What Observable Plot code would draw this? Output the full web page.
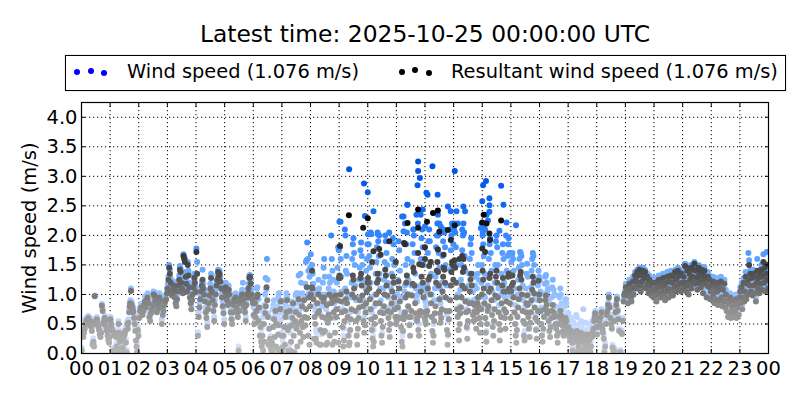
<!DOCTYPE html>
<html><head><meta charset="utf-8">
<script src="https://cdn.jsdelivr.net/npm/d3@7"></script>
<script src="https://cdn.jsdelivr.net/npm/@observablehq/plot@0.6"></script>
<style>
html,body{margin:0;padding:0;background:#fff;font-family:"DejaVu Sans",sans-serif;color:#000}
#wrap{position:relative;width:800px;height:400px;overflow:hidden}
#title{position:absolute;left:0;width:850px;top:20px;text-align:center;font-size:23.4px;line-height:28px}
#legend{position:absolute;left:65px;top:55px;width:719px;height:34px;border:1px solid #000;box-shadow:0 0 1px #999;z-index:2}
.lt{position:absolute;top:4px;font-size:19.4px;line-height:24px;white-space:nowrap}
.ld{position:absolute;width:6px;height:6px;border-radius:50%}
#chart{position:absolute;left:0;top:90px}
</style></head><body>
<div id="wrap">
<div id="title"></div>
<div id="legend"></div>
<div id="chart"></div>
</div>
<script>
const titleText = "Latest time: 2025-10-25 00:00:00 UTC";
const windLabel = "Wind speed (1.076 m/s)";
const resultantLabel = "Resultant wind speed (1.076 m/s)";
const axisLabel = "Wind speed (m/s)";
const hourTicks = d3.range(0, 25);
const speedTicks = [0,.5,1,1.5,2,2.5,3,3.5,4];

// Resultant wind speed samples, hour by hour
const resultantByHour = [
[.05,.3,.28,.35,.42,.5,.55,.52,.58,.6,.5,.48,.55,.45,.38,.15,.2,.12,.97,.5,.55,.58,.52,.45,.4,.32,.28,.35,.81,.72,.5,.55,.6,.55,.45,.38,.3,.22,.18,.28],
[.58,.5,.42,.38,.02,.05,.02,.3,.35,.28,.12,.08,.03,.5,.35,.2,.28,.05,.02,.02,.1,.22,.3,.33,.38,.18,.02,.5,.42,.52,.7,.8,.85,1.06,.82,.78,.7,.72,.6,.5,.38,.22,.12,.02,.4,.3],
[.6,.72,.78,.7,.65,.72,.82,.88,.78,.9,.95,.85,.62,.55,.68,.75,.82,1.0,.98,.9,.82,.7,.75,.85,.95,.9,.78,.5,.65,.72,.82,.88,.92,1.02],
[1.1,1.25,1.45,1.35,1.2,1.05,.98,1.02,1.15,1.1,.95,.85,.8,.92,1.05,1.15,1.25,1.42,1.38,1.2,1.1,1.02,1.65,1.6,1.55,1.3,1.18,1.05,1.5,1.32,1.12,.95,.85,.75,.9,1.0,1.12,1.28,1.2,1.05],
[1.72,1.35,.3,.62,.78,.92,1.05,1.15,1.25,1.1,1.0,.88,.7,.6,.45,.75,.85,.98,1.1,1.28,1.05,.9,.72,.55,.82,1.0,1.15,1.25,1.38,1.3,1.35,1.22,1.1,.95,.8,.68,.5],
[1.05,1.12,.98,.9,.82,1.08,1.0,.85,.7,.58,.5,.7,.82,.92,.88,.95,.78,.7,.62,.05,.72,.85,.9,.95,1.0,.9,.82,.78,.7,.55,.82,.95,1.02,1.1,1.28,1.3,1.18,1.0,.92,.85],
[.65,.5,.85,.62,.72,.95,1.0,.55,.78,.3,.45,.2,.12,.3,.05,.5,.2,.68,.8,1.12,.9,.62,.15,.42,.25,.1,.05,.18,.02,.45,.58,.28,.72,.12,.5,.08,.32,.48,.02,.75,.88,.3],
[.02,.1,.3,.45,.15,.62,.7,.9,.4,.05,.45,.72,.05,.2,.48,.6,.85,.3,.02,.55,.7,.42,.12,.5,.92,.65,.35,.2,.55,.8,.45,.28,.9,.62,.48,.75,1.12,.6,.3,.95,.15,.8],
[1.0,1.12,1.4,1.1,.92,.25,.62,.5,.25,.18,.85,.68,1.0,.72,.15,.4,.15,.95,.62,.35,.88,.95,.38,.6,.15,.82,.18,.52,.66,1.0,.3,.6,.85,.95,.15,.88,.7,.2,.35,.98,.62,.75,.9,.18,1.28],
[1.32,1.28,1.0,.88,.7,.45,.12,.22,.55,.72,.92,1.05,.85,.62,.3,.14,.18,.4,.58,.75,1.0,1.32,1.25,1.1,.95,.72,.55,.3,.15,.42,.6,.78,.9,1.28,1.35,1.15,.98,.8,.55,.35,.48,.7,.85,1.05,1.2],
[1.28,1.2,1.1,.92,.75,.58,.4,.25,.12,.2,.5,.62,.85,1.0,1.2,1.35,1.25,1.05,.85,.7,.55,.3,.18,.45,.68,.8,1.0,1.42,1.32,1.15,.98,.72,.6,.4,.28,.5,.7,.85,1.05,1.3,1.2,.95,.75,.62,.5],
[.55,.62,.78,1.22,1.1,.88,.6,.45,.2,.12,.38,.58,.65,.7,.95,1.2,1.32,1.0,.8,.62,.48,.3,.62,.72,.98,1.18,1.45,1.38,1.15,.85,.68,.58,.55,.62,.4,.3,.65,.72,1.05,1.3,1.5,1.2,.95,.7,.6],
[.55,.5,.65,.72,1.1,1.25,1.48,1.3,1.0,.85,.62,.38,.18,.3,.55,.68,.8,1.2,1.4,1.55,1.38,1.15,.92,.68,.52,.6,.75,1.05,1.3,1.45,1.42,1.2,.95,.72,.4,.15,.32,.58,.72,.9,1.15,1.38,1.55,1.5,1.25],
[1.48,1.58,1.45,1.2,.95,.75,.62,.4,.22,.5,.68,.78,.95,1.15,1.38,1.6,1.45,1.1,.88,.7,.45,.25,.55,.72,.85,1.05,1.25,1.35,1.15,.85,.65,.55,.82,.72,.58,.42,.7,.85,.95,.78,.6,.35,.5,.75,1.0],
[1.4,1.25,1.1,.85,.6,.35,.2,.5,.72,.8,1.05,1.28,1.35,1.1,.9,.65,.45,.3,.55,.75,.98,1.3,1.4,1.2,.95,.7,.5,.22,.4,.62,.85,1.15,1.28,1.05,.75,.6,.42,.7,.88,1.05,1.3,1.35,1.1,.85,.6],
[1.05,1.15,1.32,1.2,.95,.7,.5,.3,.18,.4,.62,.78,.92,1.1,1.32,1.38,1.25,1.0,.72,.55,.3,.22,.5,.7,.85,.98,.82,.62,.42,.28,.52,.7,.9,1.08,1.3,1.2,1.02,.78,.6,.4,.25,.55,.72,1.23,1.0],
[.9,.72,.5,.3,.2,.42,.62,.75,.9,.98,.82,.68,.72,.55,.38,.28,.45,.6,.72,.82,.7,.62,.65,.5,.42,.3,.18,.35,.5,.62,.72,.65,.55,.48,.38,.3,.4,.52,.6,.55,.42,.35],
[.45,.3,.35,.22,.28,.38,.18,.05,.3,.32,.25,.2,.02,.28,.38,.3,.22,.12,.05,.2,.32,.35,.28,.02,.22,.3,.18,.1,.25,.32,.22,.05,.18,.25,.32,.22,.1,.02,.12,.28,.35,.3,.42,.55,.62,.68,.58,.45],
[.32,.45,.6,.55,.48,.62,.7,.42,.35,.25,.02,.12,.5,.65,.72,.82,.95,.78,.6,.5,.42,.1,.02,.05,.55,.7,.82,.92,.72,.58,.38,.02,.02,.35,.33,.55,.88,.98,1.02],
[1.12,1.05,.98,.85,1.02,1.18,1.08,.95,.88,1.1,1.22,1.0,1.12,1.32,1.25,1.1,1.38,1.2,1.32,1.42,1.15,1.05,1.35,1.22,1.4,1.3,1.12,1.38,1.28,1.1,1.3,1.18,1.02,1.25,1.05,1.15,.98,1.2,1.08,.95],
[.95,1.2,1.05,.88,1.12,1.0,1.25,1.02,1.2,.95,1.12,1.05,1.28,.98,1.15,.9,1.2,1.05,1.3,1.1,.95,1.22,1.08,1.32,1.02,1.2,.98,1.3,1.12,1.38,1.05,1.25,1.15,1.4,1.08,1.32,1.18,1.05,1.35,1.2],
[1.08,1.3,1.12,1.48,1.2,1.05,1.4,1.15,1.0,1.35,1.25,1.45,1.1,1.3,1.2,1.42,1.52,1.18,1.4,1.28,1.08,1.3,1.45,1.2,1.38,1.12,1.42,1.25,1.02,1.32,1.4,1.18,1.28,.95,1.15,1.3,1.12,1.25,.92,1.05],
[1.15,.95,1.22,1.02,.85,1.12,.92,1.2,1.05,.82,1.15,.9,1.1,1.22,.95,.8,1.08,.88,1.18,.78,1.0,.72,.9,.62,.85,.68,.95,.6,.8,.72,.9,.62,.82,.7,.92,.6,.78,.85,.65,.95],
[1.05,.85,1.12,.75,.95,1.2,.88,1.05,1.3,.92,1.18,1.0,1.25,1.5,1.15,1.35,1.05,1.28,.98,1.35,1.15,1.02,1.3,.88,1.2,1.4,1.1,1.28,1.02,1.35,1.18,1.42,1.08,1.3,1.55,1.2,1.45,1.05,1.35,1.5,1.25,1.1]
];

// Wind speed samples, hour by hour
const windByHour = [
[.1,.36,.34,.4,.5,.58,.6,.58,.62,.64,.55,.55,.6,.5,.44,.2,.26,.18,.98,.56,.6,.62,.58,.5,.46,.38,.34,.4,.84,.76,.56,.6,.64,.6,.5,.44,.36,.28,.24,.34],
[.62,.56,.48,.44,.06,.1,.06,.36,.4,.34,.18,.14,.08,.55,.4,.26,.34,.1,.06,.06,.16,.28,.36,.38,.44,.24,.06,.55,.48,.58,.76,.86,.9,1.1,.88,.84,.76,.78,.66,.56,.44,.48,.2,.06,.45,.36],
[.66,.78,.84,.76,.7,.8,.88,.96,.84,.98,1.02,.92,.7,.62,.76,.82,.9,1.05,1.04,.98,.9,.78,.82,.92,1.02,.98,.86,.58,.72,.8,.9,.95,1.0,1.1],
[1.18,1.3,1.5,1.42,1.28,1.12,1.06,1.1,1.22,1.18,1.02,.92,.88,1.0,1.12,1.22,1.32,1.48,1.44,1.28,1.18,1.1,1.68,1.64,1.6,1.38,1.25,1.12,1.55,1.4,1.2,1.02,.92,.82,.98,1.08,1.2,1.35,1.28,1.12],
[1.78,1.55,.36,.7,.86,1.0,1.12,1.22,1.42,1.18,1.08,.96,.78,.68,.52,.82,.92,1.06,1.18,1.35,1.12,.98,.8,.62,.9,1.08,1.22,1.32,1.42,1.36,1.4,1.3,1.18,1.02,.88,.75,.58],
[1.12,1.2,1.06,.98,.9,1.15,1.08,.92,.78,.65,.58,.78,.9,1.0,.96,1.02,.86,.78,.7,.12,.8,.92,.98,1.02,1.08,1.2,.9,.86,.78,.62,.9,1.02,1.1,1.18,1.32,1.33,1.25,1.08,1.0,.92],
[.78,.62,.55,.75,.88,1.1,1.12,.98,.92,.72,.58,.32,.25,.42,.5,.62,.75,.82,1.0,1.28,1.08,1.6,1.25,.68,.42,.2,.15,.3,.45,.6,.75,.82,.9,.78,.65,.55,.48,.65,.8,.95,1.02,.88,.7,.58,.35],
[.12,.22,.45,.62,.75,.82,.92,1.02,.95,.78,.62,.48,.15,.35,.65,.8,.88,.72,.55,.45,.75,.85,.98,1.02,.7,.85,1.02,1.32,1.0,.75,1.35,1.2,.85,1.02,.78,.6,.45,.95,1.18,1.55,1.58,1.88,1.6,1.4,1.02,1.3,1.45],
[1.68,1.4,1.5,1.35,1.18,1.0,.8,.72,.4,.35,.7,1.05,1.25,1.1,.85,.65,.32,.8,1.0,1.2,1.45,1.6,1.3,1.0,.75,.55,.35,.85,1.1,1.3,1.2,1.0,2.0,1.6,1.4,1.25,1.05,.85,.6,.75,1.0,1.2,1.45,1.8,1.75],
[2.23,1.8,1.6,1.3,1.05,.75,.3,.42,.85,1.1,1.4,1.65,1.35,1.0,.55,.3,.38,.7,.95,1.2,1.6,1.85,1.95,1.7,1.5,1.15,.9,.55,.32,.7,.95,1.25,1.45,1.75,1.88,1.65,1.5,1.25,.9,.62,.8,1.1,1.4,1.6,1.85],
[2.02,1.85,1.65,1.45,1.2,.95,.7,.45,.3,.4,.8,1.0,1.35,1.55,1.8,2.05,1.9,1.65,1.35,1.1,.9,.55,.35,.75,1.1,1.25,1.55,2.0,1.9,1.7,1.5,1.2,.95,.65,.5,.8,1.1,1.35,1.6,1.95,1.85,1.5,1.2,1.0,.8],
[.85,1.0,1.25,1.9,1.75,1.4,.95,.7,.38,.3,.62,.95,1.05,1.15,1.5,1.85,2.05,1.6,1.25,1.0,.75,.5,1.0,1.15,1.55,1.85,2.1,2.0,1.7,1.35,1.1,.92,.88,1.0,.68,.5,1.05,1.15,1.6,1.95,2.1,1.8,1.5,1.1,.95],
[.88,.8,1.05,1.15,1.7,1.9,2.1,1.9,1.55,1.35,1.0,.62,.32,.5,.9,1.1,1.3,1.8,2.0,2.2,2.0,1.7,1.45,1.1,.85,.95,1.2,1.65,1.9,2.1,2.05,1.8,1.5,1.15,.65,.3,.55,.92,1.15,1.42,1.75,2.0,2.2,2.15,1.85],
[2.1,2.2,2.05,1.8,1.5,1.2,1.0,.65,.4,.8,1.08,1.25,1.5,1.75,2.0,2.2,2.05,1.65,1.4,1.12,.75,.42,.9,1.15,1.35,1.6,1.85,1.95,1.7,1.35,1.05,.9,1.3,1.15,.92,.7,1.1,1.35,1.5,1.25,.95,.6,.8,1.2,1.5],
[2.0,1.85,1.65,1.35,.95,.6,.38,.8,1.15,1.3,1.6,1.85,1.95,1.7,1.4,1.05,.75,.52,.9,1.2,1.5,1.9,2.0,1.8,1.5,1.1,.82,.4,.68,1.0,1.35,1.7,1.85,1.6,1.2,.95,.7,1.1,1.4,1.65,1.85,1.95,1.7,1.35,.98],
[1.55,1.65,1.7,1.6,1.4,1.1,.82,.5,.32,.65,1.0,1.25,1.45,1.6,1.72,1.7,1.65,1.5,1.15,.9,.52,.38,.8,1.1,1.35,1.52,1.3,1.0,.7,.45,.85,1.12,1.4,1.6,1.7,1.65,1.5,1.25,.95,.65,.42,.9,1.15,1.4,1.3],
[1.25,1.05,.78,.5,.35,.68,1.0,1.18,1.3,1.33,1.2,1.05,1.1,.88,.62,.48,.72,.95,1.12,1.25,1.08,.98,1.0,.8,.68,.5,.3,.55,.78,.95,1.1,1.0,.85,.75,.6,.48,.62,.8,.92,.85,.68,.55],
[.68,.5,.55,.38,.45,.6,.3,.12,.5,.52,.4,.35,.08,.65,.62,.45,.35,.22,.12,.36,.5,.55,.45,.1,.38,.75,.32,.2,.4,.52,.36,.12,.3,.4,.5,.38,.2,.08,.2,.42,.55,.48,.5,.6,.68,.72,.62,.5],
[.38,.5,.65,.6,.54,.68,.75,.48,.4,.3,.06,.18,.55,.7,.78,.86,1.0,.82,.65,.55,.46,.15,.06,.1,.6,.75,.86,.96,.76,.62,.42,.06,.06,.4,.38,.6,.92,1.02,1.06],
[1.18,1.12,1.05,.92,1.1,1.25,1.15,1.02,.95,1.18,1.3,1.08,1.2,1.38,1.32,1.18,1.42,1.28,1.38,1.45,1.22,1.12,1.42,1.3,1.45,1.36,1.2,1.42,1.35,1.18,1.36,1.25,1.1,1.32,1.12,1.22,1.05,1.28,1.15,1.02],
[1.02,1.28,1.12,.95,1.2,1.08,1.32,1.1,1.28,1.02,1.2,1.12,1.35,1.05,1.22,.98,1.28,1.12,1.38,1.18,1.02,1.3,1.15,1.4,1.1,1.28,1.05,1.38,1.2,1.42,1.12,1.32,1.22,1.45,1.15,1.4,1.25,1.12,1.42,1.28],
[1.15,1.38,1.2,1.52,1.28,1.12,1.45,1.22,1.08,1.42,1.32,1.5,1.18,1.38,1.28,1.47,1.55,1.25,1.46,1.35,1.15,1.38,1.5,1.28,1.45,1.2,1.47,1.32,1.1,1.4,1.46,1.25,1.35,1.02,1.22,1.38,1.2,1.32,1.0,1.12],
[1.22,1.02,1.3,1.1,.92,1.2,1.0,1.28,1.12,.9,1.22,.98,1.18,1.3,1.02,.88,1.15,.95,1.25,.85,1.08,.8,.98,.7,.92,.75,1.02,.68,.88,.8,.98,.7,.9,.78,1.0,.68,.86,.92,.72,1.02],
[1.12,.92,1.2,.82,1.02,1.28,.95,1.12,1.38,1.0,1.25,1.08,1.7,1.58,1.22,1.42,1.12,1.35,1.05,1.42,1.22,1.1,1.38,.95,1.28,1.6,1.18,1.35,1.1,1.42,1.25,1.5,1.15,1.38,1.68,1.28,1.52,1.12,1.42,1.72,1.32,1.2]
];

// Isolated high points: hour of day, speed
const windPeaks = [[9.05,2.23],[9.2,2.1],[9.22,2.0],[9.35,3.12],[9.87,2.88],[10.0,2.73],[9.9,2.33],[10.2,2.41],[10.1,2.05],[10.12,2.02],[10.35,2.02],[10.4,2.0],[10.75,2.05],[11.25,2.07],[11.39,2.52],[11.25,2.32],[11.3,2.2],[11.76,3.25],[11.76,3.09],[11.82,2.97],[11.74,2.85],[12.26,3.17],[13.04,3.09],[14.13,2.92],[14.03,2.85],[14.66,2.84],[12.05,2.72],[12.09,2.69],[12.44,2.69],[14.25,2.63],[14.0,2.58],[14.25,2.51],[14.74,2.52],[11.38,2.52],[12.8,2.49],[13.34,2.49],[12.9,2.41],[13.1,2.41],[13.4,2.41],[14.25,2.4],[12.45,2.35],[11.92,2.44],[11.7,2.35],[11.85,2.35],[11.2,2.32],[14.85,2.22],[15.18,2.17],[14.83,2.0],[14.6,2.08],[13.98,2.2],[14.05,2.15],[14.1,2.1],[14.02,2.05],[13.95,2.12],[12.5,2.2],[12.55,2.15],[13.15,2.2],[13.3,2.1],[11.6,2.1],[11.75,2.2],[12.0,2.15],[12.55,2.05],[12.9,2.1],[13.35,2.05],[14.2,2.25],[14.15,2.35]];
const resultantPeaks = [[9.34,2.34],[10.0,2.29],[9.84,2.13],[9.03,1.82],[11.39,2.21],[11.27,1.87],[10.75,1.9],[10.2,1.73],[10.4,1.77],[10.45,1.67],[10.15,1.55],[10.98,1.55],[11.76,2.44],[12.28,2.38],[12.45,2.42],[12.07,2.23],[14.05,2.35],[14.0,2.22],[14.15,2.2],[14.66,2.25],[11.76,2.13],[12.5,2.06],[12.8,2.09],[13.04,2.17],[14.25,2.03],[14.27,1.92],[12.9,1.92],[11.3,1.85],[12.0,1.8],[14.0,1.78],[12.45,1.76],[11.76,1.7],[12.65,1.67],[11.8,1.51],[14.1,1.72],[12.2,1.55],[13.2,1.6],[13.3,1.65],[12.0,1.6]];

const windStops = [0.3,0.7,1,1.5,2,2.5,3.2];
const windColors = ["#cfe0ff","#b8d2ff","#92bfff","#68a8ff","#3585ff","#0f66f2","#0050e6"];
const resultantStops = [0,0.5,0.8,1,1.3,1.6,2,2.4];
const resultantColors = ["#b4b4b4","#a0a0a0","#8a8a8a","#767676","#545454","#3e3e3e","#222222","#000000"];
const windColor = d3.scaleLinear().domain(windStops).range(windColors).clamp(true);
const resultantColor = d3.scaleLinear().domain(resultantStops).range(resultantColors).clamp(true);

function table(byHour, peaks){
  const rows = [];
  byHour.forEach((vals, h) => vals.forEach((v, i) => rows.push({t: h + (i + 0.5) / vals.length, v})));
  peaks.forEach(([t, v]) => rows.push({t, v}));
  return rows.sort((a, b) => a.t - b.t);
}
const windRows = table(windByHour, windPeaks);
const resultantRows = table(resultantByHour, resultantPeaks);

document.getElementById("title").textContent = titleText;
const legend = document.getElementById("legend");
function addDots(xs, ys, color){
  xs.forEach((x, i) => {
    const d = document.createElement("div");
    d.className = "ld"; d.style.left = (x - 69) + "px"; d.style.top = (ys[i] - 59) + "px"; d.style.background = color;
    legend.appendChild(d);
  });
}
function addText(x, s){
  const d = document.createElement("div");
  d.className = "lt"; d.style.left = (x - 66) + "px"; d.textContent = s;
  legend.appendChild(d);
}
addDots([77,91,104],[72,71,73],"#0000ff");
addDots([402,415,429],[72,70,73],"#000");
addText(127, windLabel);
addText(451, resultantLabel);

const plot = Plot.plot({
  width: 800, height: 310,
  marginTop: 12, marginBottom: 47, marginLeft: 81, marginRight: 32,
  style: {fontFamily: '"DejaVu Sans", sans-serif', fontSize: "19.5px", color: "#000", background: "#fff", overflow: "visible"},
  x: {domain: [0, 24], axis: null},
  y: {domain: [0, 4.25], axis: null},
  marks: [
    Plot.gridX(hourTicks, {stroke: "#000", strokeOpacity: 1, strokeDasharray: "1.2,2.8", strokeWidth: 1}),
    Plot.gridY(speedTicks, {stroke: "#000", strokeOpacity: 1, strokeDasharray: "1.2,2.8", strokeWidth: 1}),
    Plot.dot(windRows, {x: "t", y: "v", r: 3, fill: d => windColor(d.v), stroke: "none", clip: true}),
    Plot.dot(resultantRows, {x: "t", y: "v", r: 3, fill: d => resultantColor(d.v), stroke: "none", clip: true}),
    Plot.axisX({anchor: "bottom", ticks: hourTicks, tickSize: -4, tickPadding: 12, strokeOpacity: 1,
      tickFormat: h => String(h % 24).padStart(2, "0"), label: null}),
    Plot.axisX({anchor: "top", ticks: hourTicks, tickSize: -4, strokeOpacity: 1, tickFormat: () => "", label: null}),
    Plot.axisY({anchor: "left", ticks: speedTicks, tickSize: -4, tickPadding: 8, strokeOpacity: 1,
      tickFormat: v => v.toFixed(1), label: axisLabel, labelAnchor: "center", labelArrow: "none", labelOffset: 59}),
    Plot.axisY({anchor: "right", ticks: speedTicks, tickSize: -4, strokeOpacity: 1, tickFormat: () => "", label: null}),
    Plot.frame({stroke: "#000", strokeWidth: 1.2})
  ]
});
document.getElementById("chart").appendChild(plot);
</script>
</body></html>
